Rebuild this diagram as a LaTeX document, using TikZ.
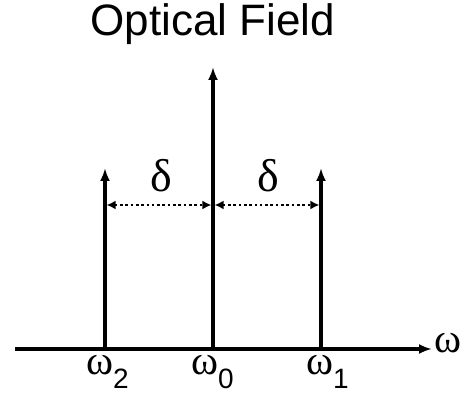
\documentclass[tikz,border=0pt]{standalone}
\usepackage{fontspec}
\setmainfont{Liberation Sans}
\newfontfamily\grk{Liberation Serif}
\usetikzlibrary{arrows.meta}
\newcommand\wlab[1]{{\grk\fontsize{41}{41}\selectfont ω}\raisebox{-14pt}{\fontsize{28}{28}\selectfont #1}}
\tikzset{
  x=1pt,y=1pt,
  spike/.style={line width=3.2pt,-{Latex[length=13pt,width=10pt]}},
  axisline/.style={line width=3.2pt,-{Latex[length=13pt,width=10pt]}},
  gap/.style={line width=2.8pt,dash pattern=on 2.6pt off 2.7pt,
    {Latex[length=9pt,width=9pt]}-{Latex[length=9pt,width=9pt]}},
  lab/.style={inner sep=0pt,anchor=base west},
  grklab/.style={inner sep=0pt,anchor=base,font=\grk\fontsize{46}{46}\selectfont}
}
\begin{document}
\begin{tikzpicture}
\useasboundingbox (0,0) rectangle (474,399);
% axis
\coordinate (axL) at (15,50);
\coordinate (axR) at (432,50);
\draw[axisline] (axL) -- (axR);
\node[lab,font=\grk\fontsize{41}{41}\selectfont] (w) at (434,46) {ω};
% spikes
\coordinate (b2) at (105,48.4);
\coordinate (b0) at (213,48.4);
\coordinate (b1) at (321,48.4);
\coordinate (t2) at (105,231);
\coordinate (t0) at (213,332);
\coordinate (t1) at (321,231);
\draw[spike] (b2) -- (t2);
\draw[spike] (b0) -- (t0);
\draw[spike] (b1) -- (t1);
% gaps
\coordinate (g2) at (106.6,194);
\coordinate (g0l) at (211.4,194);
\coordinate (g0r) at (214.6,194);
\coordinate (g1) at (319.4,194);
\draw[gap] (g2) -- (g0l);
\draw[gap] (g0r) -- (g1);
\node[grklab] (d1) at (161,207) {δ};
\node[grklab] (d2) at (268,207) {δ};
% labels
\node[lab] (l2) at (86,24) {\wlab{2}};
\node[lab] (l0) at (191,24) {\wlab{0}};
\node[lab] (l1) at (306,24) {\wlab{1}};
% title
\node[inner sep=0pt,anchor=base,font=\fontsize{44}{44}\selectfont] (title) at (213,363) {Optical Field};
\end{tikzpicture}
\end{document}
